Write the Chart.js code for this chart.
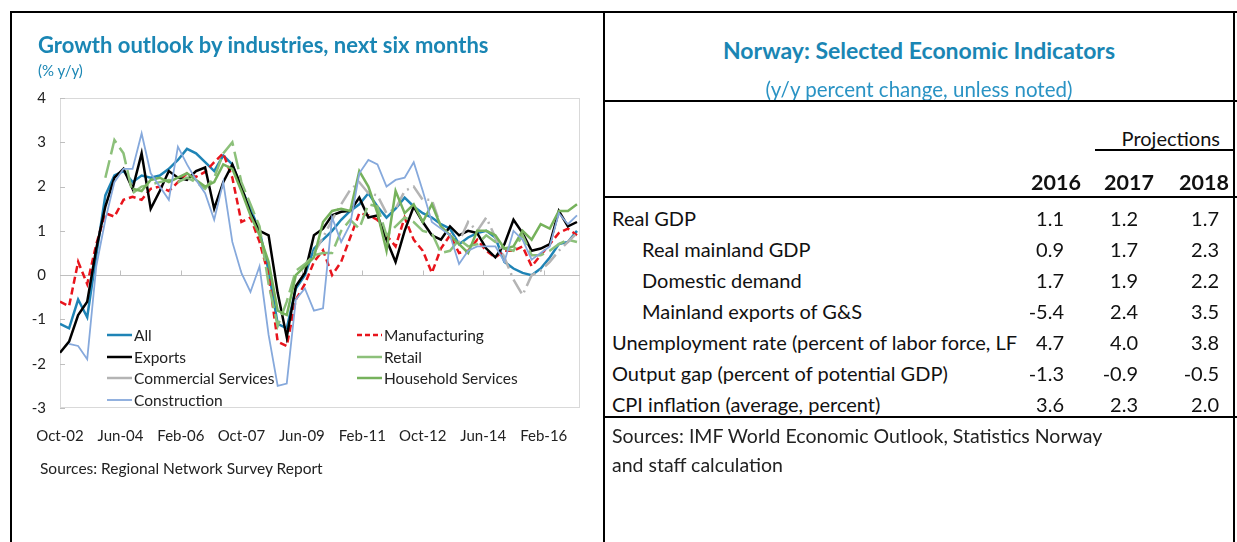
<!DOCTYPE html>
<html>
<head>
<meta charset="utf-8">
<script src="https://cdn.jsdelivr.net/npm/chart.js@4"></script>
<style>
    body { margin: 0; background: #fff; font-family: Lato, "Liberation Sans", sans-serif; }
    #page { position: relative; width: 1237px; height: 542px; overflow: hidden; }
    #chart { position: absolute; left: 0; top: 0; }
    .line { position: absolute; background: #000; }
    .txt { position: absolute; white-space: nowrap; }
    .teal { color: #1a86b4; }
    .num { position: absolute; white-space: nowrap; font-size: 20px; line-height: 24px; color: #111; text-align: right; width: 60px; }
</style>
</head>
<body>
<div id="page">
    <canvas id="chart" width="604" height="542"></canvas>

    <!-- frame -->
    <div class="line" style="left:10px;top:11px;width:1227px;height:2px"></div>
    <div class="line" style="left:10px;top:11px;width:2px;height:531px"></div>
    <div class="line" style="left:603px;top:11px;width:2px;height:531px"></div>
    <div class="line" style="left:1233px;top:11px;width:2px;height:531px"></div>

    <!-- left panel texts -->
    <div class="txt teal" style="left:38px;top:32px;font-size:22px;font-weight:bold;line-height:26px">Growth outlook by industries, next six months</div>
    <div class="txt teal" style="left:38px;top:61px;font-size:15px;line-height:18px">(% y/y)</div>
    <div class="txt" style="left:40px;top:459px;font-size:15.5px;line-height:18px;color:#222">Sources: Regional Network Survey Report</div>

    <!-- right panel -->
    <div class="txt teal" style="left:605px;width:628px;text-align:center;top:36px;font-size:23px;font-weight:bold;line-height:28px">Norway: Selected Economic Indicators</div>
    <div class="txt teal" style="left:605px;width:628px;text-align:center;top:77px;font-size:20.5px;line-height:24px;color:#2a93c4">(y/y percent change, unless noted)</div>
    <div class="line" style="left:604px;top:100px;width:633px;height:2px"></div>
    <div class="txt" style="left:1080px;width:140px;text-align:right;top:126px;font-size:20px;line-height:24px;color:#111">Projections</div>
    <div class="line" style="left:1095px;top:149px;width:140px;height:2px"></div>
    <div id="years"></div>
    <div class="line" style="left:604px;top:196px;width:633px;height:2px"></div>
    <div id="rows"></div>
    <div class="line" style="left:604px;top:416px;width:633px;height:2px"></div>
    <div class="txt" style="left:612px;top:424px;font-size:19.5px;line-height:24px;color:#222">Sources: IMF World Economic Outlook, Statistics Norway</div>
    <div class="txt" style="left:612px;top:453px;font-size:19.5px;line-height:24px;color:#222">and staff calculation</div>
</div>

<script>
// survey rounds (year-month)
const surveyDates = [
    '2002-10',
    '2003-01', '2003-04', '2003-07', '2003-10', '2004-01', '2004-04', '2004-07', '2004-10',
    '2005-01', '2005-04', '2005-07', '2005-10', '2006-01', '2006-04', '2006-07', '2006-10',
    '2007-01', '2007-04', '2007-07', '2007-10', '2008-01', '2008-04', '2008-07', '2008-10',
    '2009-01', '2009-04', '2009-07', '2009-10', '2010-01', '2010-04', '2010-07', '2010-10',
    '2011-01', '2011-04', '2011-07', '2011-10', '2012-01', '2012-04', '2012-07', '2012-10',
    '2013-01', '2013-04', '2013-07', '2013-10', '2014-01', '2014-04', '2014-07', '2014-10',
    '2015-01', '2015-04', '2015-07', '2015-10', '2016-01', '2016-04', '2016-07', '2016-10',
    '2017-01'
];
const xTickLabels = ['Oct-02', 'Jun-04', 'Feb-06', 'Oct-07', 'Jun-09', 'Feb-11', 'Oct-12', 'Jun-14', 'Feb-16'];

const allIndustries = [-1.1, -1.2, -0.55, -0.95, 0.45, 1.8, 2.25, 2.35, 2.1, 2.25, 2.2, 2.25, 2.4, 2.6, 2.85, 2.75,
    2.55, 2.35, 2.7, 2.5, 1.95, 1.5, 1.0, 0.1, -1.1, -1.2, -0.3, 0.0, 0.6, 0.8, 1.0, 1.25,
    1.45, 1.6, 1.85, 1.55, 1.3, 1.5, 1.75, 1.55, 1.4, 1.3, 1.15, 1.05, 0.7, 0.85, 0.95, 1.0,
    0.85, 0.3, 0.15, 0.05, 0.0, 0.15, 0.4, 0.7, 0.75, 1.0];
const manufacturing = [-0.6, -0.7, 0.3, -0.2, 0.7, 1.4, 1.32, 1.7, 1.77, 1.7, 1.95, 2.0, 1.9, 2.1, 2.3, 2.22,
    2.33, 2.55, 2.75, 2.2, 1.2, 1.3, 0.75, 0.0, -1.5, -1.6, -0.55, -0.2, 0.3, 0.56, 0.0, 0.3,
    0.85, 1.4, 1.35, 1.25, 0.9, 0.65, 1.3, 0.8, 0.55, 0.05, 0.6, 0.9, 0.5, 0.55, 0.8, 0.55,
    0.4, 0.55, 0.55, 0.65, 0.2, 0.45, 0.7, 0.95, 1.05, 0.9];
const exportsInd = [-1.75, -1.5, -0.9, -0.6, 0.6, 1.55, 2.2, 2.4, 1.95, 2.75, 1.5, 1.9, 2.35, 2.2, 2.15, 2.35,
    2.43, 1.5, 2.1, 2.5, 2.0, 1.4, 1.0, 0.9, -0.4, -1.4, -0.25, 0.05, 0.9, 1.05, 1.35, 1.43,
    1.45, 1.75, 1.3, 1.35, 0.8, 0.3, 1.0, 1.55, 1.2, 0.9, 0.8, 1.1, 0.9, 1.0, 0.95, 0.6,
    0.4, 0.7, 1.25, 0.95, 0.55, 0.6, 0.7, 1.45, 1.1, 1.2];
const retail = [null, null, null, null, null, 2.2, 3.05, 2.75, 1.85, 2.0, 2.05, 2.1, 2.15, 2.1, 2.2, 2.1,
    1.95, 2.2, 2.75, 3.0, 2.1, 1.6, 1.1, -0.2, -1.15, -0.6, 0.1, 0.25, 0.45, 0.5, 0.5, 1.0,
    1.25, 1.05, 1.6, 1.55, 0.9, 1.1, 1.3, 1.2, 1.0, 0.95, 0.5, 0.55, 0.8, 0.65, 0.7, 0.9,
    0.75, 0.6, 0.55, 0.9, 0.45, 0.45, 0.55, 0.7, 0.8, 0.75];
const commercialServices = [null, null, null, null, null, null, null, null, null, null, null, null, null, null, null, null,
    null, null, null, null, null, null, null, null, null, null, null, null, 0.5, 0.85, 1.25, 1.6,
    1.93, 2.1, 1.85, 1.8, 1.4, 1.5, 1.9, 2.0, 1.7, 1.7, 1.1, 0.9, 0.75, 1.2, 1.0, 1.3,
    0.85, 0.4, -0.1, -0.45, 0.0, 0.1, 0.3, 0.55, 0.75, 0.95];
const householdServices = [null, null, null, null, null, null, null, null, 1.95, 1.9, 2.15, 2.2, 2.1, 2.2, 2.3, 2.15,
    2.0, 2.1, 2.5, 2.4, 1.9, 1.35, 0.9, 0.3, -0.8, -0.9, 0.0, 0.2, 0.4, 1.2, 1.45, 1.5,
    1.45, 2.35, 2.0, 1.4, 0.55, 1.9, 1.4, 1.6, 1.2, 1.6, 1.1, 0.9, 0.7, 0.5, 1.0, 1.0,
    0.9, 0.6, 0.65, 1.0, 0.8, 1.15, 1.05, 1.45, 1.45, 1.6];
const construction = [null, -1.55, -1.6, -1.9, 0.2, 1.25, 2.1, 2.4, 2.4, 3.2, 2.3, 2.0, 1.7, 2.9, 2.5, 2.15,
    1.85, 1.25, 2.1, 0.75, 0.05, -0.38, 0.2, -1.35, -2.5, -2.45, -0.55, -0.3, -0.8, -0.75, 1.3, 0.75,
    1.15, 2.3, 2.6, 2.5, 2.0, 2.15, 2.2, 2.55, 1.9, 1.2, 1.05, 0.9, 0.25, 0.55, 0.65, 0.65,
    0.65, 0.3, 1.0, 0.8, 0.35, 0.5, 0.65, 1.4, 1.15, 1.35];

// table
const years = ['2016', '2017', '2018'];
const rowLabels = ['Real GDP', 'Real mainland GDP', 'Domestic demand', 'Mainland exports of G&S',
    'Unemployment rate (percent of labor force, LF', 'Output gap (percent of potential GDP)',
    'CPI inflation (average, percent)'];
const rowIndent = [0, 1, 1, 1, 0, 0, 0];
const val2016 = ['1.1', '0.9', '1.7', '-5.4', '4.7', '-1.3', '3.6'];
const val2017 = ['1.2', '1.7', '1.9', '2.4', '4.0', '-0.9', '2.3'];
const val2018 = ['1.7', '2.3', '2.2', '3.5', '3.8', '-0.5', '2.0'];

/* month offset from Oct-02 */
function monthIndex(d) {
    let parts = d.split('-');
    return (parseInt(parts[0]) - 2002) * 12 + (parseInt(parts[1]) - 10);
}
function points(values) {
    return values.map((v, i) => ({ x: monthIndex(surveyDates[i]), y: v }));
}

/* Table */
const yearBox = document.getElementById('years');
const yearCenters = [1056, 1129, 1204];
years.forEach((y, i) => {
    let d = document.createElement('div');
    d.className = 'txt';
    d.style.cssText = `left:${yearCenters[i] - 40}px;width:80px;text-align:center;top:170px;font-size:21.5px;font-weight:bold;line-height:24px;color:#111`;
    d.textContent = y;
    yearBox.append(d);
});
const rowBox = document.getElementById('rows');
const valueRights = [1064, 1138, 1219];
rowLabels.forEach((label, i) => {
    let top = 206 + i * 31;
    let l = document.createElement('div');
    l.className = 'txt';
    l.style.cssText = `left:${rowIndent[i] ? 642 : 612}px;top:${top}px;font-size:20px;line-height:24px;color:#111`;
    l.textContent = label;
    rowBox.append(l);
    [val2016, val2017, val2018].forEach((vals, j) => {
        let n = document.createElement('div');
        n.className = 'num';
        n.style.left = (valueRights[j] - 60) + 'px';
        n.style.top = top + 'px';
        n.textContent = vals[i];
        rowBox.append(n);
    });
});

/* Chart */
const legendPos = [
    [107, 335], [357, 335],
    [107, 357], [357, 357],
    [107, 378], [357, 378],
    [107, 400]
];

const decor = {
    id: 'decor',
    beforeDatasetsDraw(chart) {
        const { ctx, chartArea: a, scales } = chart;
        ctx.save();
        ctx.strokeStyle = '#d9d9d9';
        ctx.lineWidth = 1;
        ctx.strokeRect(a.left + 0.5, a.top + 0.5, a.width - 1, a.height - 1);
        let y0 = Math.round(scales.y.getPixelForValue(0)) + 0.5;
        ctx.strokeStyle = '#bfbfbf';
        ctx.beginPath();
        ctx.moveTo(a.left, y0);
        ctx.lineTo(a.right, y0);
        scales.x.ticks.forEach(t => {
            let px = Math.round(scales.x.getPixelForValue(t.value)) + 0.5;
            if (px > a.left + 2) { ctx.moveTo(px, y0); ctx.lineTo(px, y0 - 5); }
        });
        scales.y.ticks.forEach(t => {
            let py = Math.round(scales.y.getPixelForValue(t.value)) + 0.5;
            ctx.moveTo(a.left, py);
            ctx.lineTo(a.left + 5, py);
        });
        ctx.stroke();
        ctx.restore();
    },
    afterDatasetsDraw(chart) {
        const ctx = chart.ctx;
        ctx.save();
        ctx.font = '15.5px Lato, "Liberation Sans", sans-serif';
        ctx.textBaseline = 'middle';
        ctx.fillStyle = '#222';
        chart.data.datasets.forEach((ds, i) => {
            let [lx, ly] = legendPos[i];
            ctx.strokeStyle = ds.borderColor;
            ctx.lineWidth = ds.borderWidth;
            ctx.setLineDash(ds.legendDash || []);
            ctx.beginPath();
            ctx.moveTo(lx, ly);
            ctx.lineTo(lx + 25, ly);
            ctx.stroke();
            ctx.fillText(ds.label, lx + 27, ly + 1);
        });
        ctx.restore();
    }
};

Chart.defaults.font.family = 'Lato, "Liberation Sans", sans-serif';
Chart.defaults.color = '#222';

new Chart(document.getElementById('chart'), {
    type: 'line',
    data: {
        datasets: [
            { label: 'All', data: points(allIndustries), borderColor: '#1f84b6', borderWidth: 2.5, order: 7 },
            { label: 'Manufacturing', data: points(manufacturing), borderColor: '#e8141c', borderWidth: 2.5, borderDash: [7, 4], legendDash: [5, 3], order: 6 },
            { label: 'Exports', data: points(exportsInd), borderColor: '#000000', borderWidth: 2.5, order: 5 },
            { label: 'Retail', data: points(retail), borderColor: '#8cc07a', borderWidth: 2.5, borderDash: [18, 6], order: 4 },
            { label: 'Commercial Services', data: points(commercialServices), borderColor: '#b4b4b4', borderWidth: 2.5, borderDash: [16, 5, 2, 5], order: 3 },
            { label: 'Household Services', data: points(householdServices), borderColor: '#76b25c', borderWidth: 2.5, order: 2 },
            { label: 'Construction', data: points(construction), borderColor: '#86a9dc', borderWidth: 1.8, order: 1 }
        ]
    },
    options: {
        responsive: false,
        animation: false,
        devicePixelRatio: 1,
        layout: { padding: { left: 0, right: 24, top: 98, bottom: 94 } },
        elements: { point: { radius: 0 }, line: { tension: 0, fill: false } },
        plugins: { legend: { display: false }, tooltip: { enabled: false } },
        scales: {
            x: {
                type: 'linear',
                min: 0,
                max: 172,
                grid: { display: false, drawTicks: false },
                border: { display: false },
                afterFit: s => { s.height = 40; },
                ticks: {
                    stepSize: 20,
                    includeBounds: false,
                    autoSkip: false,
                    maxRotation: 0,
                    padding: 19,
                    font: { size: 15 },
                    callback: v => xTickLabels[v / 20] || ''
                }
            },
            y: {
                min: -3,
                max: 4,
                grid: { display: false, drawTicks: false },
                border: { display: false },
                afterFit: s => { s.width = 60; },
                ticks: { stepSize: 1, padding: 14, font: { size: 15 } }
            }
        }
    },
    plugins: [decor]
});
</script>
</body>
</html>
